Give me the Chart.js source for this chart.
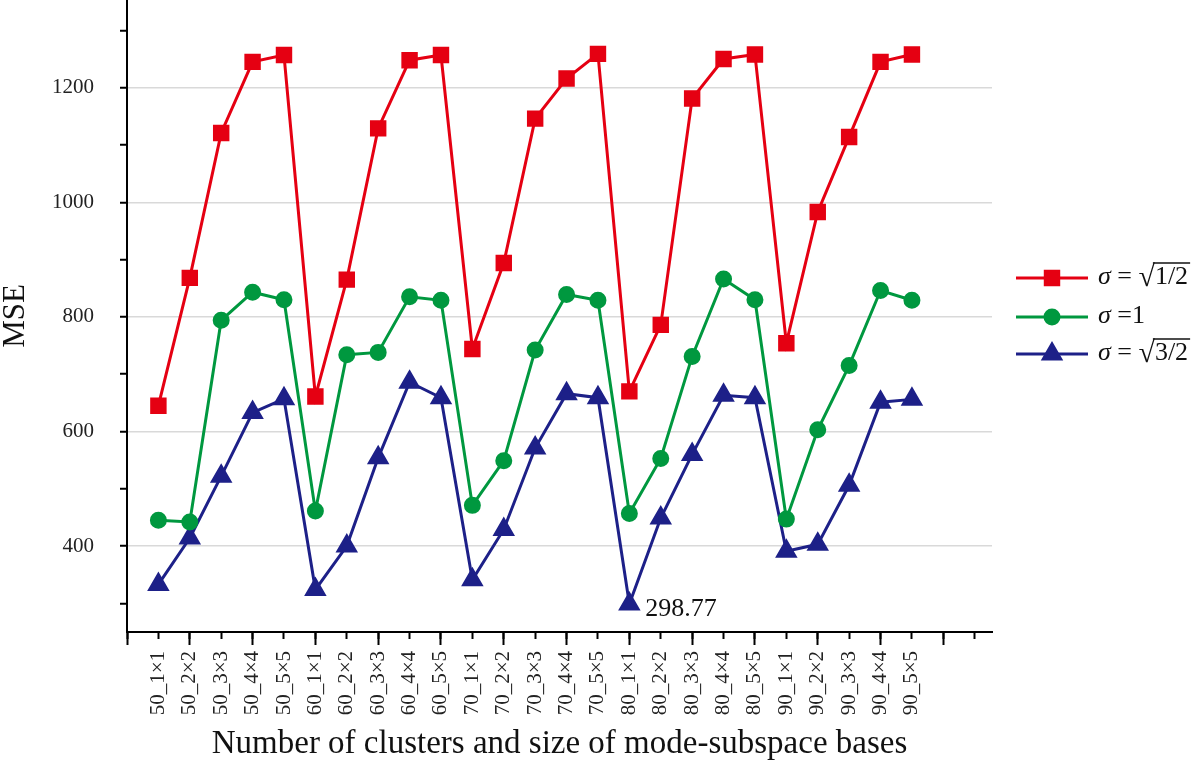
<!DOCTYPE html>
<html>
<head>
<meta charset="utf-8">
<script src="https://cdn.jsdelivr.net/npm/chart.js@4.4.1/dist/chart.umd.min.js"></script>
<style>
  html, body { margin: 0; padding: 0; background: #fff; }
  #wrap { width: 1200px; height: 772px; position: relative; }
</style>
</head>
<body>
<div id="wrap"><canvas id="grafikMSE"></canvas></div>
<script>
const categories = [
  '50_1×1', '50_2×2', '50_3×3', '50_4×4', '50_5×5',
  '60_1×1', '60_2×2', '60_3×3', '60_4×4', '60_5×5',
  '70_1×1', '70_2×2', '70_3×3', '70_4×4', '70_5×5',
  '80_1×1', '80_2×2', '80_3×3', '80_4×4', '80_5×5',
  '90_1×1', '90_2×2', '90_3×3', '90_4×4', '90_5×5'
];
const mseSigmaHalf = [645, 868, 1121, 1245, 1257, 661, 865, 1129, 1248, 1257, 744, 894, 1146, 1216, 1259, 670, 786, 1181, 1250, 1258, 754, 983, 1114, 1245, 1258];
const mseSigmaOne = [445, 442, 794, 843, 830, 461, 734, 738, 835, 829, 471, 549, 742, 839, 829, 457, 553, 731, 866, 830, 447, 603, 715, 846, 829];
const mseSigmaThreeHalf = [333, 414, 522, 633, 657, 324, 400, 554, 686, 659, 341, 429, 571, 666, 659, 298.77, 449, 560, 663, 659, 391, 403, 506, 651, 656];
const seriesLabels = ['σ = √1/2', 'σ =1', 'σ = √3/2'];
const yTicks = [300, 400, 500, 600, 700, 800, 900, 1000, 1100, 1200, 1300];
const yLabelTicks = [400, 600, 800, 1000, 1200];

const FONT = '"Liberation Serif", "Times New Roman", serif';
Chart.defaults.font.family = FONT;
Chart.defaults.color = '#222';

const toPoints = arr => arr.map((v, i) => ({ x: i, y: v }));

// legend drawn by hand (line + marker, sqrt label)
function drawSigmaLabel(ctx, label, x, y) {
  const size = 26;
  ctx.fillStyle = '#111';
  ctx.textAlign = 'left';
  ctx.textBaseline = 'alphabetic';
  ctx.font = `italic ${size}px ${FONT}`;
  ctx.fillText(label[0], x, y);
  x += ctx.measureText(label[0]).width;
  const parts = label.slice(1).split('√');
  ctx.font = `${size}px ${FONT}`;
  ctx.fillText(parts[0], x, y);
  x += ctx.measureText(parts[0]).width;
  if (parts.length > 1) {
    ctx.font = `${size * 1.15}px ${FONT}`;
    const m = ctx.measureText('√');
    ctx.fillText('√', x, y + 2);
    const barY = y + 2 - m.actualBoundingBoxAscent + 1;
    x += m.width - 1;
    ctx.font = `${size}px ${FONT}`;
    const w = ctx.measureText(parts[1]).width;
    ctx.fillText(parts[1], x + 1, y);
    ctx.strokeStyle = '#111';
    ctx.lineWidth = 1.5;
    ctx.beginPath();
    ctx.moveTo(x - 1, barY);
    ctx.lineTo(x + w + 3, barY);
    ctx.stroke();
  }
}

const sigmaLegend = {
  id: 'sigmaLegend',
  afterDraw(chart) {
    const ctx = chart.ctx;
    const rows = [278, 317, 354];
    chart.data.datasets.forEach((ds, i) => {
      const y = rows[i];
      ctx.save();
      ctx.strokeStyle = ds.borderColor;
      ctx.lineWidth = 3;
      ctx.beginPath();
      ctx.moveTo(1016, y);
      ctx.lineTo(1088, y);
      ctx.stroke();
      ctx.fillStyle = ds.pointBackgroundColor;
      ctx.strokeStyle = ds.borderColor;
      Chart.helpers.drawPoint(ctx, { pointStyle: ds.pointStyle, radius: ds.pointRadius, borderWidth: 1, rotation: 0 }, 1052, y);
      drawSigmaLabel(ctx, ds.label, 1098, y + 6);
      ctx.restore();
    });
  }
};

// label for the minimum of the sqrt(3/2) series
const minLabel = {
  id: 'minLabel',
  afterDatasetsDraw(chart) {
    const ctx = chart.ctx;
    const minVal = Math.min(...mseSigmaThreeHalf);
    const idx = mseSigmaThreeHalf.indexOf(minVal);
    const pt = chart.getDatasetMeta(2).data[idx];
    ctx.save();
    ctx.font = `26px ${FONT}`;
    ctx.fillStyle = '#111';
    ctx.textBaseline = 'alphabetic';
    ctx.fillText(String(minVal), pt.x + 16, pt.y + 12);
    ctx.restore();
  }
};

const ctx = document.getElementById('grafikMSE').getContext('2d');

new Chart(ctx, {
  type: 'line',
  data: {
    datasets: [
      {
        label: seriesLabels[0],
        data: toPoints(mseSigmaHalf),
        borderColor: '#e50012',
        backgroundColor: '#e50012',
        pointBackgroundColor: '#e50012',
        pointStyle: 'rect',
        pointRadius: 9.5,
        borderWidth: 3,
        tension: 0
      },
      {
        label: seriesLabels[1],
        data: toPoints(mseSigmaOne),
        borderColor: '#00983f',
        backgroundColor: '#00983f',
        pointBackgroundColor: '#00983f',
        pointStyle: 'circle',
        pointRadius: 7,
        borderWidth: 3,
        tension: 0
      },
      {
        label: seriesLabels[2],
        data: toPoints(mseSigmaThreeHalf),
        borderColor: '#1d2088',
        backgroundColor: '#1d2088',
        pointBackgroundColor: '#1d2088',
        pointStyle: 'triangle',
        pointRadius: 10,
        borderWidth: 3,
        tension: 0
      }
    ]
  },
  options: {
    responsive: true,
    maintainAspectRatio: false,
    animation: false,
    layout: { autoPadding: false, padding: { left: 0, top: 0, right: 208, bottom: 0 } },
    elements: { point: { borderWidth: 1, hoverRadius: 9 } },
    plugins: {
      legend: { display: false },
      tooltip: { enabled: false }
    },
    scales: {
      x: {
        type: 'linear',
        position: 'bottom',
        weight: 1,
        min: -1,
        max: 26.55,
        afterBuildTicks: s => { s.ticks = Array.from({ length: 28 }, (_, k) => ({ value: k - 1 })); },
        afterFit: s => { s.height = 140; s.paddingLeft = 0; s.paddingRight = 0; },
        border: { display: true, color: '#000', width: 2 },
        grid: { drawOnChartArea: false, drawTicks: true, tickLength: 7, tickColor: '#000', tickWidth: 2 },
        ticks: {
          autoSkip: false,
          maxRotation: 90,
          minRotation: 90,
          padding: 12,
          font: { size: 21 },
          color: '#222',
          callback: v => categories[v] ?? ''
        },
        title: {
          display: true,
          text: 'Number of clusters and size of mode-subspace bases',
          font: { size: 33, lineHeight: 1.2 },
          color: '#111',
          padding: { top: 0, bottom: 8 }
        }
      },
      xMajor: {
        type: 'linear',
        position: 'bottom',
        weight: 0,
        min: -1,
        max: 26.55,
        afterBuildTicks: s => { s.ticks = Array.from({ length: 14 }, (_, k) => ({ value: 2 * k - 1 })); },
        afterFit: s => { s.height = 0; s.paddingLeft = 0; s.paddingRight = 0; },
        border: { display: false },
        grid: { drawOnChartArea: false, drawTicks: true, tickLength: 13, tickColor: '#000', tickWidth: 2 },
        ticks: { display: false }
      },
      y: {
        min: 250,
        max: 1353,
        afterBuildTicks: s => { s.ticks = yTicks.map(v => ({ value: v })); },
        afterFit: s => { s.width = 127; s.paddingTop = 0; s.paddingBottom = 0; },
        border: { display: true, color: '#000', width: 2 },
        grid: {
          color: c => yLabelTicks.includes(c.tick && c.tick.value) ? '#d9d9d9' : 'rgba(0,0,0,0)',
          lineWidth: 1.5,
          tickColor: '#000',
          tickWidth: 2,
          tickLength: 7
        },
        ticks: {
          padding: 26,
          font: { size: 21 },
          color: '#222',
          callback: v => yLabelTicks.includes(v) ? String(v) : ''
        },
        title: {
          display: true,
          text: 'MSE',
          font: { size: 31, lineHeight: 1 },
          color: '#111',
          padding: 0
        }
      }
    }
  },
  plugins: [minLabel, sigmaLegend]
});
</script>
</body>
</html>
